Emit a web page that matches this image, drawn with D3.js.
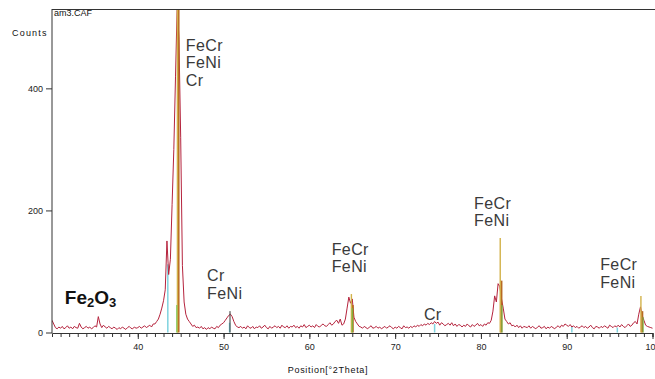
<!DOCTYPE html>
<html><head><meta charset="utf-8">
<script src="https://cdn.jsdelivr.net/npm/d3@7"></script>
<style>
html,body{margin:0;padding:0;background:#fff;}
svg text{font-family:"Liberation Sans",Arial,sans-serif;}
</style>
</head><body>
<svg id="c" width="655" height="379"></svg>
<script>
// ---- data ----
const scanStart = 30.0;   // °2θ of first sample
const scanStep = 0.2;     // sampling step of the scan
const counts = [
  20,14,8,6,9,7,10,6,8,11,
  7,9,6,10,8,7,15,9,6,8,
  10,7,9,6,8,11,9,26,14,8,
  12,9,7,10,8,6,9,7,5,8,
  6,9,7,5,8,10,7,6,9,7,
  8,10,7,9,11,8,10,12,9,14,
  14,18,22,30,40,52,70,150,95,120,
  210,300,420,540,480,320,110,50,30,22,
  18,14,10,12,8,9,7,10,6,8,
  5,8,6,9,7,6,10,8,12,14,
  16,20,24,28,30,26,18,12,9,8,
  10,7,9,6,11,8,7,10,6,9,
  8,11,7,9,12,8,6,10,7,9,
  11,8,10,7,12,9,8,11,7,10,
  9,12,8,10,7,11,9,13,8,10,
  12,9,11,8,13,10,9,12,14,11,
  10,13,16,12,14,18,20,15,22,12,
  14,22,40,58,48,55,25,18,14,10,
  9,7,10,8,6,9,11,7,8,10,
  7,9,6,8,10,7,9,11,8,6,
  9,7,10,8,6,11,8,9,7,10,
  8,11,9,12,10,13,11,14,12,15,
  13,16,14,18,15,17,12,16,14,11,
  13,15,12,16,11,14,10,13,12,9,
  12,10,14,11,9,13,10,12,15,11,
  13,10,14,12,16,15,20,35,60,50,
  80,75,55,40,22,18,14,16,11,12,
  9,12,8,11,7,10,9,8,11,7,
  10,8,6,9,11,7,8,10,6,9,
  7,10,8,6,9,11,8,12,10,14,
  12,10,13,9,11,8,10,7,9,11,
  8,10,7,9,12,8,6,10,9,7,
  10,8,11,9,7,12,10,8,11,9,
  12,9,13,10,8,11,14,10,12,16,
  18,14,30,42,28,20,12,10,9,8,
  7
];
// reference pattern sticks
const feNiPos = [43.5, 50.7, 74.6, 90.6, 95.9];
const feNiInt = [112, 16, 14, 10, 8];
const feCrPos = [44.62, 64.9, 82.25, 98.65];
const feCrInt = [530, 63, 155, 60];
const crPos = [44.74, 65.05, 82.38, 98.8];
const crInt = [530, 45, 85, 35];
const grnPos = [44.55, 65.0, 82.45, 98.9];
const grnInt = [45, 40, 45, 25];
const markPos = [50.75];
const markInt = [35];
const xTickLabels = [40, 50, 60, 70, 80, 90, 100];
const yTickLabels = [0, 200, 400];
// annotations: [°2θ, counts of first baseline, lines]
const annotations = [
  [45.6, 462, ["FeCr", "FeNi", "Cr"]],
  [48.07, 84, ["Cr", "FeNi"]],
  [62.6, 127, ["FeCr", "FeNi"]],
  [73.35, 20, ["Cr"]],
  [79.2, 203, ["FeCr", "FeNi"]],
  [93.9, 102, ["FeCr", "FeNi"]]
];

// ---- chart ----
const svg = d3.select("#c");
const L = 52, R = 652.5, T = 9, B = 333;
const x = d3.scaleLinear().domain([30, 100]).range([L, R]);
const y = d3.scaleLinear().domain([0, 530]).range([332.5, T]);

svg.append("defs").append("clipPath").attr("id", "clip")
  .append("rect").attr("x", L).attr("y", T).attr("width", R - L + 5).attr("height", B - T);

const plot = svg.append("g").attr("clip-path", "url(#clip)");

function sticks(pos, inten, color, w) {
  plot.append("g").selectAll("line").data(pos.map((p, i) => [p, inten[i]])).join("line")
    .attr("x1", d => x(d[0])).attr("x2", d => x(d[0]))
    .attr("y1", y(0)).attr("y2", d => y(d[1]))
    .attr("stroke", color).attr("stroke-width", w);
}
sticks(feNiPos, feNiInt, "#7fd3df", 1.5);

const pts = counts.map((c, i) => [scanStart + i * scanStep, c]);
plot.append("path").datum(pts)
  .attr("fill", "none").attr("stroke", "#b5233d").attr("stroke-width", 1)
  .attr("d", d3.line().x(d => x(d[0])).y(d => y(d[1])));

sticks(crPos, crInt, "#b86a22", 2.2);
sticks(feCrPos, feCrInt, "#d2b24a", 1.4);
sticks(grnPos, grnInt, "#6cc24a", 1);
sticks(markPos, markInt, "#333333", 1);

// frame
svg.append("line").attr("x1", L).attr("x2", 655).attr("y1", T + 0.5).attr("y2", T + 0.5).attr("stroke", "#333");

// x axis
const minor = d3.range(31, 101);
svg.append("g").attr("transform", `translate(0,${B})`)
  .call(d3.axisBottom(x).tickValues(minor).tickSize(4).tickFormat(""))
  .call(g => g.select(".domain").attr("stroke", "#333"))
  .call(g => g.selectAll(".tick line").attr("stroke", "#333"));
svg.append("g").attr("transform", `translate(0,${B})`)
  .call(d3.axisBottom(x).tickValues(xTickLabels).tickSize(6).tickPadding(5).tickFormat(d3.format("d")))
  .call(g => g.select(".domain").remove())
  .call(g => g.selectAll(".tick line").attr("stroke", "#333"))
  .call(g => g.selectAll("text").attr("font-size", 9).attr("fill", "#222").attr("font-family", "Liberation Sans, Arial, sans-serif"));

// y axis
svg.append("g").attr("transform", `translate(${L},0)`)
  .call(d3.axisLeft(y).tickValues(yTickLabels).tickSize(6).tickPadding(3).tickFormat(d3.format("d")))
  .call(g => g.select(".domain").attr("d", `M0,${T}V${B}`).attr("stroke", "#333"))
  .call(g => g.selectAll(".tick line").attr("stroke", "#333"))
  .call(g => g.selectAll("text").attr("font-size", 9).attr("fill", "#222").attr("font-family", "Liberation Sans, Arial, sans-serif"));

// titles
svg.append("text").attr("x", 54).attr("y", 16).attr("font-size", 9).attr("fill", "#111").text("am3.CAF");
svg.append("text").attr("x", 12).attr("y", 36).attr("font-size", 9).attr("letter-spacing", 1.2).attr("fill", "#111").text("Counts");
svg.append("text").attr("x", 328).attr("y", 373).attr("text-anchor", "middle")
  .attr("font-size", 9).attr("letter-spacing", 0.7).attr("fill", "#111").text("Position[°2Theta]");

// annotations
annotations.forEach(([ax, ay, lines]) => {
  const t = svg.append("text").attr("x", x(ax)).attr("y", y(ay))
    .attr("font-size", 16).attr("fill", "#3a3a3a").attr("letter-spacing", 0.4);
  lines.forEach((s, i) => t.append("tspan").attr("x", x(ax)).attr("dy", i === 0 ? 0 : 17.5).text(s));
});

// Fe2O3
const fe = svg.append("text").attr("x", x(31.5)).attr("y", y(46))
  .attr("font-size", 19).attr("font-weight", "bold").attr("fill", "#111");
fe.append("tspan").text("Fe");
fe.append("tspan").attr("font-size", 13).attr("dy", 3).text("2");
fe.append("tspan").attr("dy", -3).text("O");
fe.append("tspan").attr("font-size", 13).attr("dy", 3).text("3");
</script>
</body></html>
